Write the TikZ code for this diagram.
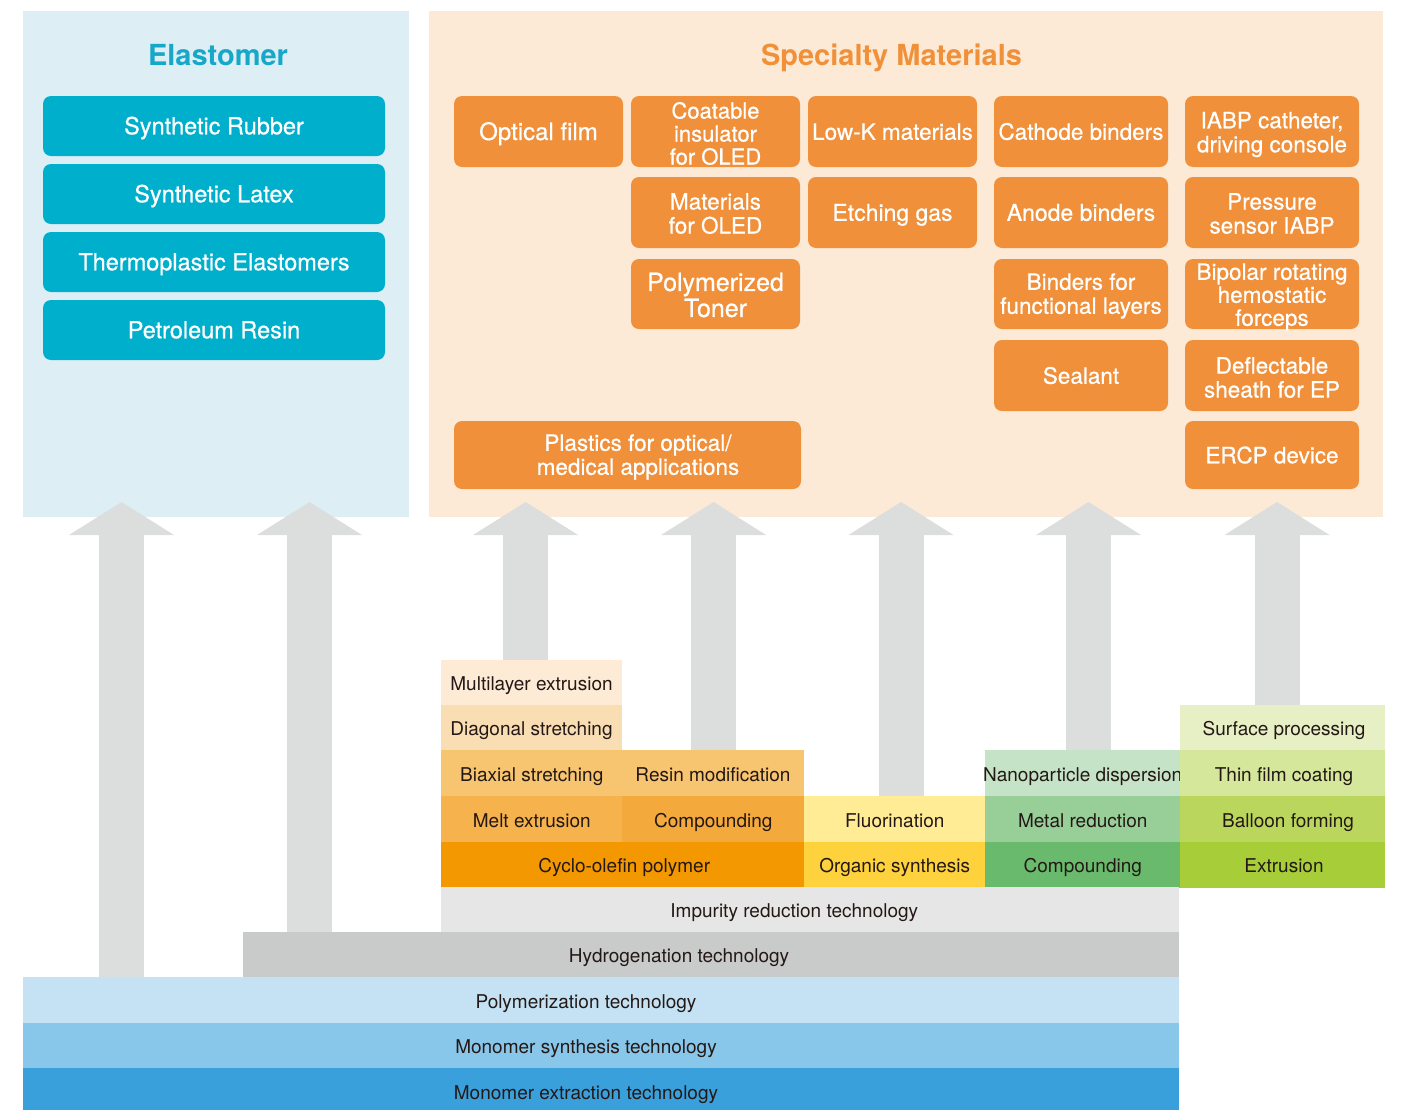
\documentclass[tikz,border=0pt]{standalone}
\usepackage{fontspec}
\setmainfont{TeX Gyre Heros}
\newfontface\medfont{TeX Gyre Heros}[FakeBold=0.6]
\usetikzlibrary{arrows.meta}
\definecolor{elabg}{HTML}{DDEEF5}
\definecolor{spebg}{HTML}{FDEAD6}
\definecolor{tealbox}{HTML}{00AFCB}
\definecolor{elatitle}{HTML}{17A8C9}
\definecolor{orbox}{HTML}{F0903A}
\definecolor{spetitle}{HTML}{F0913A}
\definecolor{arrowgray}{HTML}{DCDDDD}
\definecolor{txt}{HTML}{231815}
\definecolor{cA}{HTML}{FDEBD6}
\definecolor{cB}{HTML}{FADEB3}
\definecolor{cC}{HTML}{F7C470}
\definecolor{cD}{HTML}{F5B24D}
\definecolor{cE}{HTML}{F3A93B}
\definecolor{cF}{HTML}{F39800}
\definecolor{cG}{HTML}{FFEC95}
\definecolor{cH}{HTML}{FDD23C}
\definecolor{cI}{HTML}{C5E3C6}
\definecolor{cJ}{HTML}{98CF99}
\definecolor{cK}{HTML}{69BA6C}
\definecolor{cL}{HTML}{E6F0C4}
\definecolor{cM}{HTML}{D5E79B}
\definecolor{cN}{HTML}{BBD65C}
\definecolor{cO}{HTML}{A7CE39}
\definecolor{impc}{HTML}{E6E6E6}
\definecolor{hydc}{HTML}{C9CACA}
\definecolor{polc}{HTML}{C4E2F3}
\definecolor{msyc}{HTML}{88C6EA}
\definecolor{mexc}{HTML}{3AA0DC}
% #1 name, #2-#5 x1 y1 x2 y2, #6 box style, #7 text style, #8 text
\newcommand\rbox[8]{%
  \node[#6, minimum width={(#4-#2)*1pt}, minimum height={(#5-#3)*1pt}] (#1) at ({(#2+#4)/2},{(#3+#5)/2}) {};
  \node[#7] (#1t) at ([yshift=-3pt]#1.center) {#8};}
\begin{document}
\begin{tikzpicture}[x=1pt,y=-1pt,
  panel/.style={inner sep=0pt, outer sep=0pt},
  ttl/.style={inner sep=0pt, font=\fontsize{29}{32}\selectfont\bfseries},
  tbox/.style={fill=tealbox, rounded corners=8pt, inner sep=0pt, outer sep=0pt},
  obox/.style={fill=orbox, rounded corners=8pt, inner sep=0pt, outer sep=0pt},
  wt/.style={text=white, inner sep=0pt, align=center, font=\medfont\fontsize{22.5}{24}\selectfont},
  one/.style={text height=16.5pt, text depth=0pt, yshift=3pt},
  tt/.style={wt, font=\medfont\fontsize{23.5}{26}\selectfont},
  blk/.style={inner sep=0pt, outer sep=0pt},
  lbl/.style={inner sep=0pt, text=txt, text height=13.7pt, text depth=4pt, font=\fontsize{19}{22}\selectfont},
  bigarrow/.style={draw=arrowgray, line width=45pt, -{Triangle[width=105pt,length=33pt,line width=0pt]}}]
\useasboundingbox (0,0) rectangle (1402,1109);
% panels
\rbox{ela}{22.5}{11}{408.5}{516.5}{panel,fill=elabg}{inner sep=0pt}{}
\rbox{spe}{429}{11}{1383}{516.5}{panel,fill=spebg}{inner sep=0pt}{}
\node[ttl, text=elatitle, anchor=base] (elat) at (218,65) {Elastomer};
\node[ttl, text=spetitle, anchor=base] (spet) at (891.5,65) {Specialty Materials};
% elastomer boxes
\rbox{sr}{43}{96}{385}{156}{tbox}{tt,one}{Synthetic Rubber}
\rbox{sl}{43}{164}{385}{224}{tbox}{tt,one}{Synthetic Latex}
\rbox{te}{43}{232}{385}{292}{tbox}{tt,one}{Thermoplastic Elastomers}
\rbox{pr}{43}{300}{385}{360}{tbox}{tt,one}{Petroleum Resin}
% specialty boxes
\rbox{ob1}{454}{96}{623}{167}{obox}{wt,font=\medfont\fontsize{24}{25}\selectfont,one,text height=17pt}{Optical film}
\rbox{ob2}{631}{96}{800}{167}{obox}{wt,font=\medfont\fontsize{22}{23}\selectfont,yshift=1pt}{Coatable\\insulator\\for OLED}
\rbox{ob3}{808}{96}{977}{167}{obox}{wt,one}{Low-K materials}
\rbox{ob4}{994}{96}{1168}{167}{obox}{wt,one}{Cathode binders}
\rbox{ob5}{1185}{96}{1359}{167}{obox}{wt}{IABP catheter,\\driving console}
\rbox{ob6}{631}{177}{800}{248}{obox}{wt,yshift=2pt}{Materials\\for OLED}
\rbox{ob7}{808}{177}{977}{248}{obox}{wt,font=\medfont\fontsize{23}{24}\selectfont,one}{Etching gas}
\rbox{ob8}{994}{177}{1168}{248}{obox}{wt,font=\medfont\fontsize{23}{24}\selectfont,one}{Anode binders}
\rbox{ob9}{1185}{177}{1359}{248}{obox}{wt,yshift=2pt}{Pressure\\sensor IABP}
\rbox{ob10}{631}{259}{800}{329}{obox}{wt,font=\medfont\fontsize{25}{26}\selectfont,yshift=2pt}{Polymerized\\Toner}
\rbox{ob11}{994}{259}{1168}{329}{obox}{wt,yshift=1pt}{Binders for\\functional layers}
\rbox{ob12}{1185}{259}{1359}{329}{obox}{wt,font=\medfont\fontsize{22.5}{23}\selectfont}{Bipolar rotating\\hemostatic\\forceps}
\rbox{ob13}{994}{340}{1168}{411}{obox}{wt,one}{Sealant}
\rbox{ob14}{1185}{340}{1359}{411}{obox}{wt,yshift=1pt}{Deflectable\\sheath for EP}
\rbox{ob15}{454}{421}{801}{489}{obox}{wt,xshift=10.5pt,yshift=1pt}{Plastics for optical/\\medical applications}
\rbox{ob16}{1185}{421}{1359}{489}{obox}{wt,one}{ERCP device}
% technology layers
\rbox{mlx}{441}{660}{622}{705.5}{blk,fill=cA}{lbl}{Multilayer extrusion}
\rbox{dgs}{441}{705}{622}{750.5}{blk,fill=cB}{lbl}{Diagonal stretching}
\rbox{bxs}{441}{750}{622.5}{796.5}{blk,fill=cC}{lbl}{Biaxial stretching}
\rbox{rsm}{622}{750}{804}{796.5}{blk,fill=cC}{lbl}{Resin modification}
\rbox{mex}{441}{796}{622.5}{842.5}{blk,fill=cD}{lbl}{Melt extrusion}
\rbox{cpo}{622}{796}{804.5}{842.5}{blk,fill=cE}{lbl}{Compounding}
\rbox{cop}{441}{842}{804.5}{887.5}{blk,fill=cF}{lbl,xshift=1.5pt}{Cyclo-olefin polymer}
\rbox{flu}{804}{796}{985.5}{842.5}{blk,fill=cG}{lbl}{Fluorination}
\rbox{org}{804}{842}{985.5}{887.5}{blk,fill=cH}{lbl}{Organic synthesis}
\rbox{nan}{985}{750}{1180.5}{796.5}{blk,fill=cI}{lbl}{Nanoparticle dispersion}
\rbox{mrd}{985}{796}{1180.5}{842.5}{blk,fill=cJ}{lbl}{Metal reduction}
\rbox{cpg}{985}{842}{1180.5}{887.5}{blk,fill=cK}{lbl}{Compounding}
\rbox{sfp}{1180}{705}{1385}{750.5}{blk,fill=cL}{lbl,xshift=1.5pt}{Surface processing}
\rbox{tfc}{1180}{750}{1385}{796.5}{blk,fill=cM}{lbl,xshift=1.5pt}{Thin film coating}
\rbox{blf}{1180}{796}{1385}{842.5}{blk,fill=cN}{lbl,xshift=5.5pt}{Balloon forming}
\rbox{ext}{1180}{842}{1385}{887.5}{blk,fill=cO}{lbl,xshift=1.5pt}{Extrusion}
% base bands
\rbox{imp}{441}{887}{1178.5}{932.5}{blk,fill=impc}{lbl,xshift=-15.5pt}{Impurity reduction technology}
\rbox{hyd}{243}{932}{1179}{977.5}{blk,fill=hydc}{lbl,xshift=-32pt}{Hydrogenation technology}
\rbox{pol}{23}{977}{1179}{1023.5}{blk,fill=polc}{lbl,xshift=-15pt}{Polymerization technology}
\rbox{msy}{23}{1023}{1179}{1068.5}{blk,fill=msyc}{lbl,xshift=-15pt}{Monomer synthesis technology}
\rbox{mxt}{23}{1068}{1179}{1113}{blk,fill=mexc}{lbl,xshift=-15pt,yshift=-1pt}{Monomer extraction technology}
% arrows
\coordinate (t1) at (121.5,502);
\coordinate (t2) at (309.5,502);
\coordinate (t3) at (525.6,502);
\coordinate (t4) at (713.6,502);
\coordinate (t5) at (901,502);
\coordinate (t6) at (1088.5,502);
\coordinate (t7) at (1277,502);
\draw[bigarrow] (pol.north -| t1) -- (t1);
\draw[bigarrow] (hyd.north -| t2) -- (t2);
\draw[bigarrow] (mlx.north -| t3) -- (t3);
\draw[bigarrow] (rsm.north -| t4) -- (t4);
\draw[bigarrow] (flu.north -| t5) -- (t5);
\draw[bigarrow] (nan.north -| t6) -- (t6);
\draw[bigarrow] (sfp.north -| t7) -- (t7);
\end{tikzpicture}
\end{document}
